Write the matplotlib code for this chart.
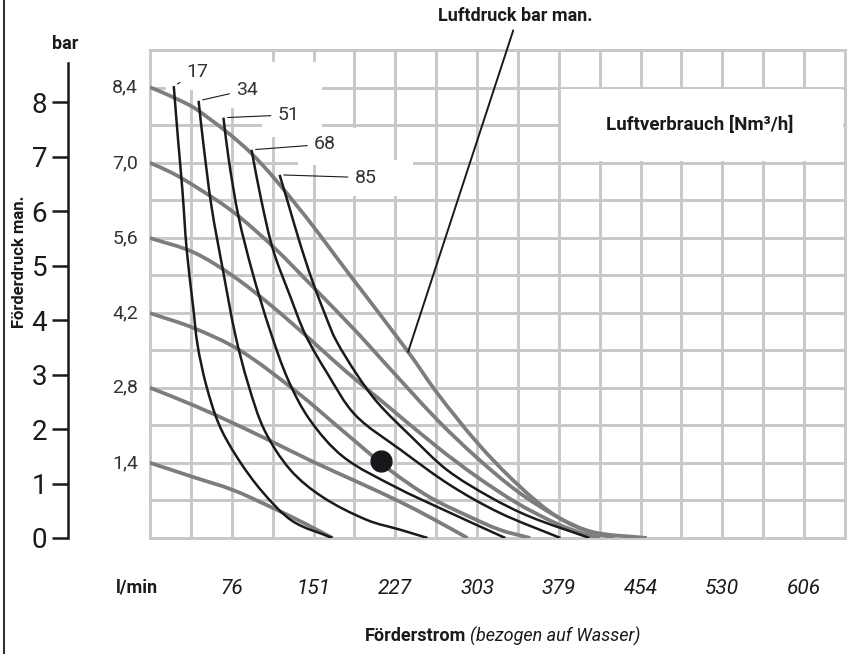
"""
plot.py
-------
Pump performance chart: discharge pressure vs. flow for several air pressures,
with air consumption curves.
"""

import numpy as np
import matplotlib.pyplot as plt
from matplotlib.patches import Rectangle, PathPatch
from matplotlib.path import Path
from matplotlib.lines import Line2D

plt.rcParams['font.family'] = ['Roboto', 'DejaVu Sans']

# ---------------------------------------------------------------- data
# air pressure curves (bar man.): flow in l/min, discharge pressure in bar
air_labels = ["1,4", "2,8", "4,2", "5,6", "7,0", "8,4"]
flow_14 = [0, 40, 77, 114, 142, 169]
pres_14 = [1.38, 1.12, 0.88, 0.55, 0.28, 0.0]
flow_28 = [0, 40, 77, 114, 151, 192, 232, 264, 294]
pres_28 = [2.76, 2.44, 2.11, 1.76, 1.40, 1.03, 0.66, 0.33, 0.0]
flow_42 = [0, 40, 83, 136, 182, 222, 259, 296, 324, 352]
pres_42 = [4.13, 3.86, 3.45, 2.68, 1.91, 1.25, 0.75, 0.39, 0.15, 0.0]
flow_56 = [0, 40, 77, 114, 151, 182, 213, 266, 303, 340, 377, 403, 417]
pres_56 = [5.51, 5.25, 4.81, 4.24, 3.60, 3.05, 2.54, 1.67, 1.12, 0.64, 0.26, 0.07, 0.0]
flow_70 = [0, 21, 44, 77, 114, 151, 192, 213, 266, 303, 340, 377, 405, 430]
pres_70 = [6.89, 6.70, 6.43, 5.99, 5.35, 4.61, 3.77, 3.31, 2.17, 1.47, 0.86, 0.39, 0.13, 0.0]
flow_84 = [0, 21, 44, 93, 139, 185, 239, 266, 303, 340, 377, 410, 460]
pres_84 = [8.28, 8.10, 7.86, 7.08, 6.03, 4.83, 3.42, 2.66, 1.75, 0.99, 0.39, 0.11, 0.0]

# air consumption curves (Nm3/h)
cons_labels = ["17", "34", "51", "68", "85"]
flow_17 = [22, 26, 30, 34, 40, 44, 52, 64, 81, 104, 132, 169]
pres_17 = [8.30, 7.31, 6.39, 5.29, 4.24, 3.55, 2.81, 2.08, 1.47, 0.85, 0.31, 0.0]
flow_34 = [45, 49, 57, 68, 79, 91, 106, 130, 160, 201, 232, 257]
pres_34 = [8.03, 7.31, 6.08, 4.87, 3.73, 2.82, 1.98, 1.25, 0.75, 0.33, 0.15, 0.0]
flow_51 = [68, 73, 82, 95, 111, 128, 148, 179, 227, 276, 329]
pres_51 = [7.72, 6.94, 5.90, 4.87, 3.82, 2.90, 2.17, 1.49, 0.94, 0.48, 0.0]
flow_68 = [94, 103, 114, 130, 144, 164, 190, 232, 278, 324, 380]
pres_68 = [7.13, 6.21, 5.29, 4.43, 3.73, 3.03, 2.26, 1.62, 0.97, 0.46, 0.0]
flow_85 = [120, 127, 138, 150, 163, 172, 192, 211, 242, 275, 315, 352, 407]
pres_85 = [6.67, 6.21, 5.47, 4.74, 4.06, 3.64, 2.99, 2.48, 1.86, 1.25, 0.75, 0.39, 0.0]

# operating point
op_flow = [214]
op_pres = [1.41]

# axes
flow_ticks = [75.7, 151.4, 227.1, 302.8, 378.5, 454.2, 529.9, 605.6]
flow_tick_labels = ["76", "151", "227", "303", "379", "454", "530", "606"]
bar_ticks = [0, 1, 2, 3, 4, 5, 6, 7, 8]

# ---------------------------------------------------------------- layout
W, H = 853, 654
CELL_Q = 37.854          # 10 US gpm in l/min
CELL_P = 0.68948         # 10 psi in bar
XMAX, YMAX = 17 * CELL_Q, 13 * CELL_P
GL, GR, GT, GB = 150, 845, 50, 538   # grid box in pixels
SX, SY = (GR - GL) / XMAX, (GB - GT) / YMAX

GRID = "#c8c8c8"
GREY = "#7d7d7d"
INK = "#1a1a1a"


def fx(x):
    return (x - GL) / (GR - GL) * XMAX


def fy(y):
    return (GB - y) / (GB - GT) * YMAX


def smooth_curve(ax, q, p, **kw):
    """Draw the read points as one smooth Bezier path through every point."""
    pts = np.column_stack([np.asarray(q, float) * SX, np.asarray(p, float) * SY])
    n = len(pts)
    tang = np.zeros_like(pts)
    for i in range(n):
        d = pts[min(i + 1, n - 1)] - pts[max(i - 1, 0)]
        tang[i] = d / np.hypot(*d)
    verts = [pts[0]]
    codes = [Path.MOVETO]
    for i in range(n - 1):
        seg = np.hypot(*(pts[i + 1] - pts[i])) / 3
        verts += [pts[i] + tang[i] * seg, pts[i + 1] - tang[i + 1] * seg, pts[i + 1]]
        codes += [Path.CURVE4] * 3
    verts = np.array(verts) / [SX, SY]
    ax.add_patch(PathPatch(Path(verts, codes), fill=False, **kw))


fig = plt.figure(figsize=(W / 100, H / 100), dpi=100)
ax = fig.add_axes([GL / W, 1 - GB / H, (GR - GL) / W, (GB - GT) / H])
ax.set_xlim(0, XMAX)
ax.set_ylim(0, YMAX)
ax.axis("off")

# grid
for i in range(18):
    ax.axvline(i * CELL_Q, color=GRID, lw=2.1, zorder=1, clip_on=False)
for j in range(14):
    ax.axhline(j * CELL_P, color=GRID, lw=2.1, zorder=1, clip_on=False)

# white masks behind the labels
masks = [(166, 52, 262, 90), (200, 76, 294, 108), (262, 62, 322, 137),
         (298, 128, 360, 165), (318, 160, 413, 196)]
for x0, y0, x1, y1 in masks:
    ax.add_patch(Rectangle((fx(x0), fy(y1)), fx(x1) - fx(x0), fy(y0) - fy(y1),
                           facecolor="white", edgecolor="none", zorder=2))
ins_q, ins_p = 1.6, 0.03
ax.add_patch(Rectangle((10 * CELL_Q + ins_q, 10 * CELL_P + ins_p),
                       7 * CELL_Q - 2 * ins_q, 2 * CELL_P - 2 * ins_p,
                       facecolor="white", edgecolor="none", zorder=2))
ax.text(fx(700), 11 * CELL_P, "Luftverbrauch [Nm³/h]", ha="center", va="center",
        fontsize=13.5, fontweight="bold", color=INK, zorder=5)

# air pressure curves
air_flows = [flow_14, flow_28, flow_42, flow_56, flow_70, flow_84]
air_pres = [pres_14, pres_28, pres_42, pres_56, pres_70, pres_84]
for lab, q, p in zip(air_labels, air_flows, air_pres):
    smooth_curve(ax, q, p, edgecolor=GREY, lw=2.7, capstyle="butt", zorder=3)
    ax.annotate(lab, xy=(0, p[0]), xytext=(-8.5, 0), textcoords="offset points",
                ha="right", va="center", fontsize=14, color="#333333")

# air consumption curves
cons_flows = [flow_17, flow_34, flow_51, flow_68, flow_85]
cons_pres = [pres_17, pres_34, pres_51, pres_68, pres_85]
offsets = [(17, 10), (35, 8), (47, 2), (53, 4), (62, -2)]
for lab, q, p, off in zip(cons_labels, cons_flows, cons_pres, offsets):
    smooth_curve(ax, q, p, edgecolor=INK, lw=1.8, capstyle="butt", zorder=4)
    ax.annotate(lab, xy=(q[0], p[0]), xytext=off, textcoords="offset points",
                ha="center", va="center", fontsize=14, color="#333333", zorder=5,
                arrowprops=dict(arrowstyle="-", lw=0.8, color=INK,
                                shrinkA=3, shrinkB=3))

# operating point
ax.plot(op_flow, op_pres, "o", color="#18181c", ms=15, zorder=6)

# pointer to air pressure curves
ax.annotate("Luftdruck bar man.", xy=(flow_84[6], pres_84[6]),
            xytext=(515 / W, 1 - 16 / H), textcoords="figure fraction",
            ha="center", va="center", fontsize=13, fontweight="bold", color=INK,
            arrowprops=dict(arrowstyle="-", lw=1.4, color=INK, relpos=(0.5, 0),
                            shrinkA=2, shrinkB=0), zorder=6)

# flow tick labels
for q, lab in zip(flow_ticks, flow_tick_labels):
    ax.text(q, (GB - 588) / (GB - GT), lab, transform=ax.get_xaxis_transform(),
            ha="center", va="center", fontsize=15, style="italic", color=INK)
fig.text(137 / W, 1 - 588 / H, "l/min", ha="center", va="center",
         fontsize=13, fontweight="bold", color=INK)
fig.text(466 / W, 1 - 636 / H, "Förderstrom", ha="right", va="center",
         fontsize=13, fontweight="bold", color=INK)
fig.text(470 / W, 1 - 636 / H, "(bezogen auf Wasser)", ha="left", va="center",
         fontsize=13, style="italic", color=INK)

# left pressure axis
ax2 = fig.add_axes([68 / W, 1 - GB / H, 0.0001, (GB - GT) / H])
ax2.set_ylim(0, YMAX)
ax2.patch.set_visible(False)
for side in ["right", "top", "bottom"]:
    ax2.spines[side].set_visible(False)
ax2.spines["left"].set_bounds(0, fy(63))
ax2.spines["left"].set_linewidth(1.8)
ax2.spines["left"].set_color(INK)
ax2.set_xticks([])
ax2.set_yticks(bar_ticks)
ax2.set_yticklabels([str(t) for t in bar_ticks])
ax2.tick_params(axis="y", length=11.5, width=1.8, color=INK, pad=3.5,
                labelsize=20, labelcolor=INK)
fig.text(65 / W, 1 - 44 / H, "bar", ha="center", va="center",
         fontsize=13, fontweight="bold", color=INK)
fig.text(20 / W, 1 - 262 / H, "Förderdruck man.", ha="center", va="center",
         rotation=90, fontsize=12, fontweight="bold", color=INK)

# frame line on the left edge
fig.add_artist(Line2D([4 / W, 4 / W], [0, 1], transform=fig.transFigure,
                      color="#333333", lw=1.5))

fig.savefig("out.png", dpi=100)
